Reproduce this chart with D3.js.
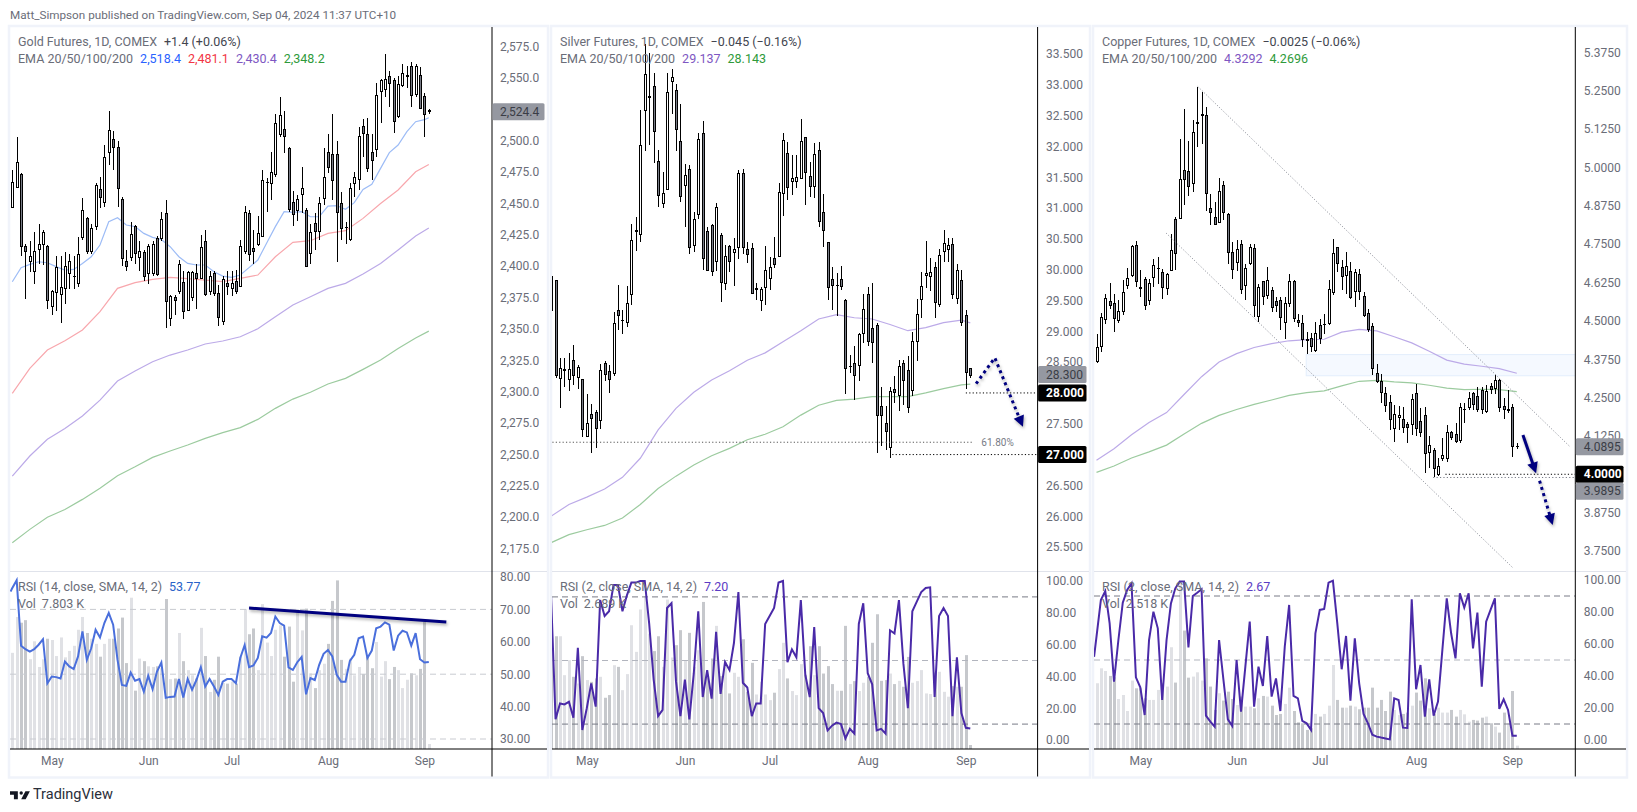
<!DOCTYPE html>
<html>
<head>
<meta charset="utf-8">
<script src="https://cdn.jsdelivr.net/npm/d3@7"></script>
<style>
  html, body { margin: 0; padding: 0; background: #fff; }
  svg { display: block; }
  text { font-family: Roboto, "Open Sans", sans-serif; }
</style>
</head>
<body>
<svg id="chart"></svg>
<script>
// gold, one value per daily bar
const goldOpen = [2447,2463,2473,2416,2404,2396,2413,2417,2416,2368,
  2379,2377,2382,2394,2392,2386,2423,2438,2412,2432,
  2461,2451,2491,2501,2495,2453,2404,2407,2432,2407,
  2411,2394,2394,2422,2422,2442,2358,2375,2380,2387,
  2365,2375,2394,2390,2420,2380,2394,2378,2356,2386,
  2382,2388,2384,2412,2442,2414,2417,2424,2467,2466,
  2473,2505,2509,2494,2451,2444,2457,2444,2410,2434,
  2428,2454,2491,2489,2489,2450,2431,2421,2466,2469,
  2511,2505,2491,2493,2539,2541,2551,2548,2519,2544,
  2552,2559,2537,2552,2535,2523];
const goldHigh = [2477,2503,2474,2418,2420,2427,2434,2429,2417,2381,
  2408,2408,2411,2410,2408,2423,2454,2439,2434,2466,
  2471,2497,2524,2508,2500,2455,2413,2435,2433,2420,
  2413,2418,2420,2424,2443,2453,2377,2377,2405,2396,
  2396,2396,2402,2425,2429,2396,2396,2385,2392,2396,
  2396,2397,2421,2448,2445,2429,2440,2477,2470,2491,
  2521,2535,2524,2495,2460,2457,2479,2446,2434,2442,
  2455,2494,2505,2521,2500,2459,2435,2466,2475,2511,
  2517,2518,2505,2546,2549,2569,2556,2550,2552,2561,
  2560,2563,2561,2559,2538,2525];
const goldLow = [2447,2462,2408,2374,2395,2386,2402,2401,2366,2361,
  2364,2355,2370,2382,2382,2383,2421,2410,2410,2429,
  2446,2447,2481,2477,2447,2400,2396,2404,2402,2396,
  2388,2386,2392,2392,2420,2351,2352,2361,2378,2358,
  2364,2372,2366,2390,2376,2377,2376,2352,2353,2377,
  2376,2378,2383,2410,2404,2402,2416,2423,2443,2453,
  2471,2503,2490,2443,2432,2436,2442,2399,2402,2413,
  2421,2449,2474,2453,2403,2421,2418,2420,2455,2461,
  2487,2475,2469,2487,2514,2535,2527,2506,2518,2543,
  2542,2527,2535,2525,2503,2521];
const goldClose = [2467,2483,2416,2412,2408,2412,2417,2427,2373,2380,
  2399,2383,2400,2404,2392,2409,2444,2412,2430,2464,
  2455,2487,2508,2495,2462,2406,2400,2425,2410,2412,
  2392,2416,2417,2393,2437,2372,2376,2373,2401,2364,
  2395,2395,2390,2415,2377,2392,2378,2359,2389,2384,
  2386,2380,2416,2443,2409,2412,2426,2468,2467,2475,
  2514,2520,2503,2445,2441,2453,2462,2400,2427,2428,
  2450,2471,2479,2468,2443,2430,2431,2462,2471,2503,
  2506,2478,2484,2536,2548,2549,2546,2515,2545,2554,
  2552,2536,2559,2526,2521,2524];
// EMA 20 is read every 2 bars, the slower ones every 4 bars, last bar always included
const goldEma20 = [2387.6,2398.8,2401.4,2403.5,2402.7,2399.6,2396.9,2397.4,2402.2,2407.5,
  2416.8,2435.4,2438.6,2432.8,2431.5,2426.1,2423,2421.3,2415.5,2407.5,
  2402.2,2400.9,2400.9,2395.6,2392.1,2391,2392.9,2398.8,2404.9,2418.2,
  2431.5,2443.4,2442.9,2443.4,2439.4,2439.4,2447.9,2448.2,2445.3,2450.6,
  2461.2,2465.2,2478,2490.5,2496.6,2507.2,2515.2,2516.8,2518.4];
const goldEma50 = [2298.6,2318.5,2333.1,2340.5,2349.1,2363.7,2382.3,2386.8,2389.5,2391,
  2390,2388.9,2387.6,2390.3,2392.9,2407.5,2419,2420.3,2426.1,2428.3,
  2438.1,2450,2460.7,2475.3,2481.1];
const goldEma100 = [2232.6,2248.6,2261.9,2270.6,2280.5,2293.2,2308.4,2316.4,2323.8,2329.1,
  2333.1,2337.9,2340.3,2343.7,2350.1,2359.7,2369,2375.6,2382.3,2386.3,
  2393.7,2402.2,2412.9,2424,2430.4];
const goldEma200 = [2179.5,2190.1,2199.7,2206,2214,2222.8,2232.9,2240,2247.5,2252.6,
  2257.4,2262.7,2267.2,2271.2,2277.8,2286.6,2294,2299.4,2306,2310.5,
  2317.7,2325.1,2334.4,2342.7,2348.2];
const goldRsi = [76.6,79,58.8,57.7,57,57.7,59.1,60.8,47.2,49.3,
  49.1,48.7,53.9,52.4,51.6,55.5,63.2,54.4,58,63.7,
  61.3,65.8,68.9,65.3,54.4,46.7,46.4,50.5,48,48.5,
  44.6,49.5,45.4,50.8,53.6,42.7,43,43.1,48.5,42.8,
  48.5,45.2,48.2,52.2,46.2,48.5,46.2,43.6,47.7,48.5,
  48.5,47.2,55,59,52.2,52.7,55,61.7,61.3,62.7,
  67.8,65.8,65,52.1,51.3,53.7,55.3,43.8,48.8,48.2,
  52.9,56.3,57.5,55.5,49.8,47.7,47.7,54.1,56,61.1,
  61.6,55,57.3,64.2,64.7,66,65.3,57.3,61.9,63.4,
  62.9,58.8,62.7,54.6,53.6,53.77];
const goldVolume = [150,206,197,201,140,168,128,140,172,170,
  145,174,143,153,161,186,206,181,172,164,
  144,164,172,172,188,205,134,236,91,141,
  137,129,128,129,126,234,109,110,181,137,
  123,115,110,189,145,89,108,144,103,102,
  105,102,144,218,179,188,123,226,166,145,
  186,193,144,191,105,218,185,219,118,95,
  123,133,164,231,263,139,125,141,115,128,
  117,144,126,167,113,137,109,128,123,95,
  108,118,115,125,198,7.8];

// silver
const silverOpen = [29.89,29.83,28.24,28.38,28.22,28.52,28.25,28.21,27.29,27.65,
  27.68,27.56,28.47,28.35,28.32,29.33,29.18,29.15,29.60,30.63,
  30.57,32.59,32.81,32.98,31.75,31.08,31.30,33.06,32.91,32.08,
  31.36,31.63,30.39,30.90,32.21,30.62,30.71,30.13,30.55,29.78,
  30.38,30.28,30.36,31.56,30.32,30.35,29.69,29.50,29.71,29.86,
  30.18,30.22,31.24,31.89,31.43,31.43,31.48,32.15,31.52,31.35,
  31.93,30.93,30.44,29.84,29.75,29.84,29.50,28.43,28.48,28.44,
  28.97,29.59,29.05,29.10,27.78,27.50,27.11,28.06,27.96,28.47,
  28.37,28.04,28.83,29.52,29.90,29.89,30.04,29.43,30.29,30.32,
  30.41,29.54,29.83,29.25,28.39];
const silverHigh = [29.89,29.83,28.56,28.56,28.64,28.78,28.45,28.21,27.99,27.82,
  27.72,28.47,28.52,28.45,29.32,29.75,29.34,29.74,30.74,30.86,
  32.59,33.67,33.51,33.19,31.94,31.58,33.19,33.25,33.02,32.69,
  31.71,31.70,30.94,32.21,32.41,30.69,30.74,31.09,30.59,30.40,
  30.40,30.51,31.61,31.64,30.45,30.44,29.78,29.72,30.38,30.21,
  30.53,31.40,32.21,32.08,31.86,31.86,32.45,32.15,31.75,32.05,
  32.07,31.23,30.44,30.04,29.94,30.06,29.52,28.61,28.76,28.98,
  29.60,29.72,29.78,29.13,28.09,27.78,28.10,28.27,28.53,28.53,
  28.60,28.99,29.52,29.96,30.46,30.19,30.12,30.33,30.64,30.52,
  30.52,30.09,29.99,29.34,28.41];
const silverLow = [29.34,28.24,27.76,28.10,28.03,28.13,28.07,27.28,27.29,27.02,
  27.10,27.42,28.20,28.00,28.27,29.02,28.95,29.07,29.43,30.31,
  30.45,31.93,32.03,31.73,31.02,31.00,31.29,32.53,31.93,31.10,
  30.70,30.25,30.28,30.83,29.99,29.98,29.89,29.98,29.48,29.67,
  29.97,29.74,30.17,30.26,30.11,29.60,29.51,29.33,29.43,29.67,
  30.02,30.20,30.87,31.13,31.21,31.32,31.48,31.05,31.18,31.16,
  30.69,30.37,29.51,29.35,29.25,29.67,27.98,28.32,27.89,28.20,
  28.81,28.76,28.49,27.03,27.14,27.08,26.95,27.83,27.71,27.80,
  27.67,27.95,28.52,29.22,29.70,29.66,29.22,29.39,30.12,30.13,
  29.52,29.45,29.08,28.07,28.24];
const silverClose = [29.34,28.29,28.40,28.38,28.38,28.29,28.41,27.41,27.50,27.59,
  27.43,28.37,28.30,28.22,29.12,29.26,29.18,29.45,30.48,30.63,
  32.01,33.17,32.81,32.25,31.21,31.24,32.88,33.12,32.28,31.18,
  31.53,30.36,30.82,32.11,30.18,29.99,29.97,31.01,29.80,30.22,
  30.13,30.32,31.56,30.36,30.25,29.62,29.69,29.68,29.98,30.04,
  30.09,31.25,32.09,31.33,31.48,31.49,32.08,31.57,31.35,31.87,
  30.79,30.63,29.71,29.74,29.75,29.72,28.40,28.43,28.28,28.95,
  29.35,28.83,28.82,27.63,27.63,27.37,28.02,28.00,28.43,28.20,
  27.76,28.84,29.28,29.72,29.94,29.96,29.46,30.23,30.43,30.40,
  29.60,29.99,29.15,28.33,28.29];
const silverEma100 = [26,26.19,26.31,26.44,26.63,26.94,27.4,27.75,28.01,28.21,
  28.36,28.53,28.65,28.83,29.01,29.2,29.27,29.22,29.2,29.11,
  29.01,29.06,29.14,29.18,29.137];
const silverEma200 = [25.57,25.7,25.78,25.85,25.97,26.19,26.45,26.65,26.83,26.98,
  27.1,27.24,27.33,27.45,27.64,27.8,27.88,27.9,27.94,27.94,
  27.94,28,28.07,28.13,28.143];
const silverRsi = [90,13,23,22.4,24,14,58,6.3,20,35.6,
  21,88,78,81,97.5,97.5,81,91,99,99,
  100,100,73,38,15,19,83,86,37,15,
  38,13,42,81,27,44,26,68,29,49,
  44,61,93,36,33,15,23,23,73,78,
  83,99,100,49,57,52,88,41,27,71,
  20,17,6,9,11,10,1,7,4,73,
  86,42,35,6,7,4,69,67,88,48,
  20,81,87,93,95.6,96,27,78,83,78,
  15,52,17,7.7,7.2];
const silverVolume = [75.9,75.9,75.9,49.7,59.8,48.6,44.1,62.5,46.4,45.2,
  47.5,48.6,34.5,36.3,56.4,55.3,39.6,50.4,83.3,65.4,
  93.9,102.8,77.7,65.9,75.9,55.3,100.6,61.6,69.9,80,
  59.8,78.2,55.3,66.5,99,49.7,60.9,82.9,49.1,58.7,
  37.4,51.3,48.6,73.9,38.5,58,36.7,45.2,36.7,32.9,
  37.9,53.8,71.5,47.5,39,36.3,57.1,49.7,69.2,49.7,
  69.2,50.8,55.8,43.7,39.2,39.2,82.9,43.7,45.7,39,
  44.6,48.6,71.5,90.7,45.9,46.4,50.8,43.7,45.9,41.9,
  62,44.6,45.7,53.1,37.4,37,51.5,52,38.5,35.2,
  42.3,41.9,41.9,63.2,2.689];

// copper
const copperOpen = [4.369,4.415,4.504,4.562,4.556,4.500,4.529,4.616,4.648,4.744,
  4.610,4.634,4.567,4.641,4.672,4.657,4.605,4.665,4.829,4.835,
  4.990,4.987,4.947,5.145,5.171,5.169,4.865,4.838,4.822,4.941,
  4.847,4.724,4.689,4.748,4.616,4.688,4.735,4.513,4.627,4.583,
  4.599,4.562,4.565,4.496,4.556,4.627,4.502,4.491,4.440,4.442,
  4.402,4.486,4.489,4.491,4.591,4.738,4.673,4.648,4.661,4.594,
  4.650,4.580,4.523,4.482,4.328,4.301,4.263,4.233,4.149,4.185,
  4.179,4.162,4.162,4.263,4.171,4.191,4.070,4.079,3.998,4.050,
  4.052,4.136,4.130,4.109,4.212,4.217,4.263,4.255,4.272,4.204,
  4.285,4.280,4.305,4.220,4.211,4.218,4.092];
const copperHigh = [4.458,4.526,4.589,4.624,4.589,4.567,4.632,4.673,4.746,4.759,
  4.665,4.643,4.637,4.703,4.708,4.670,4.657,4.784,4.838,5.091,
  5.191,5.085,5.156,5.261,5.245,5.198,4.914,4.887,4.966,4.957,
  4.851,4.757,4.762,4.762,4.684,4.751,4.749,4.621,4.630,4.675,
  4.610,4.578,4.578,4.578,4.654,4.632,4.523,4.518,4.464,4.461,
  4.496,4.507,4.523,4.632,4.768,4.740,4.697,4.724,4.692,4.670,
  4.670,4.594,4.540,4.494,4.358,4.328,4.283,4.258,4.225,4.222,
  4.220,4.171,4.263,4.293,4.215,4.218,4.126,4.087,4.052,4.117,
  4.162,4.142,4.166,4.231,4.231,4.269,4.269,4.283,4.285,4.290,
  4.296,4.323,4.309,4.250,4.276,4.228,4.101];
const copperLow = [4.361,4.399,4.491,4.537,4.464,4.493,4.518,4.605,4.643,4.610,
  4.578,4.534,4.551,4.610,4.621,4.572,4.583,4.662,4.665,4.833,
  4.879,4.906,4.919,5.068,5.077,4.858,4.811,4.811,4.819,4.827,
  4.686,4.637,4.662,4.589,4.567,4.681,4.513,4.496,4.551,4.572,
  4.529,4.529,4.469,4.442,4.545,4.496,4.480,4.415,4.393,4.397,
  4.399,4.426,4.458,4.486,4.583,4.659,4.602,4.589,4.572,4.545,
  4.567,4.511,4.464,4.323,4.296,4.233,4.204,4.144,4.106,4.144,
  4.133,4.101,4.128,4.125,4.122,4.003,4.022,3.992,3.994,4.044,
  4.041,4.111,4.101,4.103,4.166,4.211,4.209,4.204,4.198,4.200,
  4.263,4.263,4.204,4.179,4.200,4.057,4.081];
const copperClose = [4.413,4.511,4.572,4.549,4.507,4.532,4.592,4.637,4.743,4.627,
  4.604,4.551,4.621,4.679,4.672,4.607,4.650,4.730,4.719,4.960,
  4.962,4.939,5.113,5.145,5.171,4.914,4.854,4.814,4.921,4.854,
  4.722,4.667,4.732,4.602,4.670,4.740,4.549,4.610,4.578,4.630,
  4.545,4.551,4.511,4.556,4.627,4.507,4.494,4.440,4.435,4.415,
  4.458,4.442,4.489,4.602,4.719,4.686,4.643,4.678,4.575,4.659,
  4.594,4.518,4.472,4.345,4.301,4.267,4.225,4.179,4.195,4.193,
  4.152,4.152,4.244,4.149,4.135,4.068,4.095,4.019,4.025,4.061,
  4.136,4.119,4.106,4.218,4.212,4.247,4.228,4.211,4.212,4.270,
  4.276,4.307,4.218,4.211,4.211,4.092,4.092];
const copperEma100 = [4.046,4.083,4.129,4.169,4.201,4.26,4.318,4.366,4.393,4.413,
  4.426,4.435,4.439,4.44,4.463,4.472,4.467,4.448,4.428,4.401,
  4.372,4.359,4.352,4.344,4.3292];
const copperEma200 = [4.006,4.027,4.053,4.073,4.095,4.131,4.166,4.192,4.211,4.228,
  4.242,4.257,4.266,4.272,4.288,4.303,4.306,4.301,4.298,4.29,
  4.281,4.276,4.277,4.276,4.2696];
const copperRsi = [64.6,87.5,93.1,72.9,36.5,62.5,85.8,93.8,97.9,39.2,
  32.9,15.6,62.5,80.2,69.8,25,62.5,85.4,94.8,99,
  99,57.9,90,92,94.2,15.2,11.5,8.3,62.5,37.5,
  12.9,8.8,50,17.7,45.8,74,20.8,45.8,33.8,65,
  27.1,38.5,18.1,58.3,84.4,27.5,26,11.9,10.4,6.3,
  66.7,81.3,81.9,98.3,99.6,72.9,44.2,65,24.6,63.5,
  35.4,16.3,10.4,3.3,2.1,1.5,1,0.4,26,25,
  7.7,7.5,87.9,31.7,46.9,14.6,37.9,15.2,24,56.3,
  88.5,66.7,51,91.7,82.7,91.7,57.3,79.6,33.3,74,
  81.3,88.5,19.4,25.4,18.8,2.7,2.67];
const copperVolume = [49.3,60.5,58.5,54.8,53.8,37.5,40.5,28.5,51.3,45.5,
  45.5,38,36.8,36.8,44.3,49.3,46.8,76.3,49.8,124.8,
  88.8,53.5,54.3,57.5,51.3,68,46.8,29.3,41.8,36.3,
  43,37.5,33,39.3,31.8,31.8,30.5,38,39.8,39.3,
  32.5,25.5,26.3,33.8,46,28.5,20,19.3,14.3,15.5,
  26.3,24.3,26.3,32.5,63,36.8,31,31,32.5,31.8,
  29.8,31,31,46,31,36.8,28.5,43,29.3,25.5,
  26.3,27.3,32.5,42.3,36.3,53,30.5,26.3,31,27.3,
  27.3,29.3,24.3,29.3,26,20.5,21.8,21.3,23.5,24.3,
  19.3,16.8,12.3,27.3,19.3,43.5,2.518];

// axis ticks
const goldPriceTicks = [2575,2550,2525,2500,2475,2450,2425,2400,2375,2350,2325,2300,2275,2250,2225,2200,2175];
const silverPriceTicks = [33.5,33,32.5,32,31.5,31,30.5,30,29.5,29,28.5,28,27.5,27,26.5,26,25.5];
const copperPriceTicks = [5.375,5.25,5.125,5,4.875,4.75,4.625,4.5,4.375,4.25,4.125,3.875,3.75];
const goldRsiTicks = [80,70,60,50,40,30];
const fastRsiTicks = [100,80,60,40,20,0];
const monthNames = ['May','Jun','Jul','Aug','Sep'];
const goldMonthBars = [9,31,50,72,94];
const silverMonthBars = [8,30,49,71,93];
const copperMonthBars = [10,32,51,73,95];

// drawn annotations: bar number, price
const goldTrendBars = [54,99], goldTrendRsi = [70.4,66.1];
const silverArrowBars = [95.3,99.5,105.8], silverArrowPrices = [28.15,28.57,27.45];
const channelTopBars = [23.1,108], channelTopPrices = [5.264,4.092];
const channelLowBars = [15.9,95.2], channelLowPrices = [4.786,3.694];
const copperZoneBars = [47.9,140], copperZonePrices = [4.39,4.321];
const copperSolidBars = [97.4,100.4], copperSolidPrices = [4.128,4.003];
const copperDotBars = [101.2,104.2], copperDotPrices = [3.979,3.835];
// rsi line runs in from the left edge of the pane, before the first whole bar
const goldRsiLead = [-0.4,75.5], copperRsiLead = [-0.56,52];

const W = 1637, H = 812;
const svg = d3.select('#chart').attr('width', W).attr('height', H);
const defs = svg.append('defs');

const FRAME_TOP = 27, PANE_SPLIT = 571.5, TIME_TOP = 749, FRAME_BOTTOM = 776.5;
const NAVY = '#00007f', TEXT = '#6a6d78';

svg.append('text').attr('x', 10).attr('y', 19).attr('font-size', 11.7).attr('fill', TEXT)
  .text('Matt_Simpson published on TradingView.com, Sep 04, 2024 11:37 UTC+10');

function everyNth(n, last) {
  const bars = d3.range(0, last, n);
  bars.push(last);
  return bars;
}

function drawPanel(p) {
  const root = svg.append('g');
  const clipId = p.id + '-price', clipLow = p.id + '-low';
  defs.append('clipPath').attr('id', clipId).append('rect')
    .attr('x', p.left).attr('y', FRAME_TOP).attr('width', p.axisX - p.left).attr('height', PANE_SPLIT - FRAME_TOP);
  defs.append('clipPath').attr('id', clipLow).append('rect')
    .attr('x', p.left).attr('y', PANE_SPLIT).attr('width', p.axisX - p.left).attr('height', TIME_TOP - PANE_SPLIT);

  const last = p.close.length - 1;
  const x = d3.scaleLinear().domain([0, last]).range(p.xRange);
  const y = d3.scaleLinear().domain(p.priceDomain).range(p.priceRange);
  const yRsi = d3.scaleLinear().domain(p.rsiDomain).range(p.rsiRange);
  const yVol = d3.scaleLinear().domain([0, p.volMax]).range([TIME_TOP, TIME_TOP - p.volPx]);
  const bars = d3.range(last + 1);
  const isUp = i => p.close[i] >= p.open[i];
  const cx = i => Math.round(x(i)) + 0.5;

  // panel frame
  root.append('rect').attr('x', p.left - 1).attr('y', FRAME_TOP - 1)
    .attr('width', p.right - p.left + 2).attr('height', FRAME_BOTTOM - FRAME_TOP + 2)
    .attr('fill', '#fff').attr('stroke', '#f0f3fa').attr('stroke-width', 2.5);

  // lower pane: volume, bands, rsi
  const low = root.append('g').attr('clip-path', `url(#${clipLow})`);
  low.selectAll('rect.vol').data(bars).join('rect').attr('class', 'vol')
    .attr('x', i => cx(i) - 1.5).attr('width', 3)
    .attr('y', i => yVol(p.volume[i])).attr('height', i => TIME_TOP - yVol(p.volume[i]))
    .attr('fill', i => isUp(i) ? '#e0e1e5' : '#c6c8cc');
  low.selectAll('line.band').data(p.bands).join('line').attr('class', 'band')
    .attr('x1', p.left).attr('x2', p.axisX).attr('y1', d => yRsi(d.v)).attr('y2', d => yRsi(d.v))
    .attr('stroke', d => d.c).attr('stroke-dasharray', '6,4');
  const rsiPts = p.rsi.map((v, i) => [x(i), yRsi(v)]);
  if (p.rsiLead) rsiPts.unshift([x(p.rsiLead[0]), yRsi(p.rsiLead[1])]);
  low.append('path').attr('d', d3.line()(rsiPts))
    .attr('fill', 'none').attr('stroke', p.rsiColor).attr('stroke-width', 2);

  // upper pane
  const top = root.append('g').attr('clip-path', `url(#${clipId})`);
  if (p.underlay) p.underlay(top, x, y);
  p.emas.forEach(e => {
    const b = everyNth(e.n, last);
    top.append('path').datum(e.values)
      .attr('d', d3.line().x((d, i) => x(b[i])).y(d => y(d)))
      .attr('fill', 'none').attr('stroke', e.c).attr('stroke-width', 1.2);
  });
  top.selectAll('line.wick').data(bars).join('line').attr('class', 'wick')
    .attr('x1', cx).attr('x2', cx).attr('y1', i => y(p.high[i])).attr('y2', i => y(p.low[i]))
    .attr('stroke', '#000').attr('stroke-width', 1).attr('shape-rendering', 'crispEdges');
  top.selectAll('rect.body').data(bars).join('rect').attr('class', 'body')
    .attr('x', i => cx(i) - 1).attr('width', 2)
    .attr('y', i => y(Math.max(p.open[i], p.close[i])))
    .attr('height', i => Math.max(0.5, Math.abs(y(p.open[i]) - y(p.close[i]))))
    .attr('fill', i => isUp(i) ? '#fff' : '#787b86')
    .attr('stroke', '#000').attr('stroke-width', 1).attr('shape-rendering', 'crispEdges');
  if (p.overlay) p.overlay(top, x, y, low, yRsi);

  // separators and axis lines
  root.append('line').attr('x1', p.left).attr('x2', p.right).attr('y1', PANE_SPLIT).attr('y2', PANE_SPLIT)
    .attr('stroke', '#e0e3eb');
  root.append('line').attr('x1', p.left).attr('x2', p.right).attr('y1', TIME_TOP).attr('y2', TIME_TOP)
    .attr('stroke', '#000');
  root.append('line').attr('x1', p.axisX).attr('x2', p.axisX).attr('y1', FRAME_TOP).attr('y2', FRAME_BOTTOM)
    .attr('stroke', '#000');

  // axes
  const styleAxis = g => {
    g.select('.domain').remove();
    g.selectAll('.tick line').remove();
    g.selectAll('.tick text').attr('fill', TEXT).attr('font-size', 12);
  };
  root.append('g').attr('transform', `translate(${p.axisX},0)`)
    .call(d3.axisRight(y).tickValues(p.priceTicks).tickFormat(p.priceFormat).tickSize(0).tickPadding(p.tickPad))
    .call(styleAxis);
  root.append('g').attr('transform', `translate(${p.axisX},0)`)
    .call(d3.axisRight(yRsi).tickValues(p.rsiTicks).tickFormat(d3.format('.2f')).tickSize(0).tickPadding(p.tickPad))
    .call(styleAxis);
  root.append('g').attr('transform', `translate(0,${TIME_TOP + 7})`)
    .call(d3.axisBottom(x).tickValues(p.monthBars).tickFormat((d, i) => monthNames[i]).tickSize(0).tickPadding(0))
    .call(styleAxis);

  // price badges, pushed down when they would overlap
  let prevY = -100;
  p.badges.forEach(b => {
    const cy = Math.max(y(b.v), prevY + 17);
    prevY = cy;
    root.append('rect').attr('x', p.axisX + 0.5).attr('y', cy - 8.5)
      .attr('width', p.right - p.axisX - 3).attr('height', 17).attr('rx', 1.5).attr('fill', b.bg);
    root.append('text').attr('x', p.axisX + p.tickPad).attr('y', cy + 4.2)
      .attr('font-size', 12).attr('fill', b.fg).attr('font-weight', b.bold ? 700 : 400).text(b.label);
  });

  // legends, over the marks
  const legendX = p.left + 8;
  const legend = (yPos, parts) => {
    const t = root.append('text').attr('x', legendX).attr('y', yPos).attr('font-size', 12.5);
    parts.forEach(q => t.append('tspan').attr('dx', q.dx || 0).attr('fill', q.c || TEXT).text(q.t));
  };
  legend(46, p.title);
  legend(63, p.emaLegend);
  legend(591, p.rsiLegend);
  legend(608, [{ t: 'Vol' }, { t: p.volLabel, dx: 6 }]);
}

// dotted line with an arrow head at its end
function arrow(g, x, y, xs, ys, opts) {
  const pts = xs.map((b, i) => [x(b), y(ys[i])]);
  const shadow = 'drop-shadow(1.5px 2px 1.5px rgba(0,0,0,0.3))';
  const grp = g.append('g').style('filter', shadow);
  const [ax, ay] = pts[pts.length - 2], [bx, by] = pts[pts.length - 1];
  const ang = Math.atan2(by - ay, bx - ax), len = 11, wing = 5.5;
  const tail = [bx - Math.cos(ang) * (len - 2), by - Math.sin(ang) * (len - 2)];
  const linePts = pts.slice(0, -1).concat([tail]);
  grp.append('path').attr('d', d3.line()(linePts)).attr('fill', 'none')
    .attr('stroke', NAVY).attr('stroke-width', opts.w).attr('stroke-dasharray', opts.dash || null);
  const baseX = bx - Math.cos(ang) * len, baseY = by - Math.sin(ang) * len;
  grp.append('path').attr('fill', NAVY).attr('d', d3.line()([
    [bx, by],
    [baseX - Math.sin(ang) * wing, baseY + Math.cos(ang) * wing],
    [baseX + Math.sin(ang) * wing, baseY - Math.cos(ang) * wing]
  ]) + 'Z');
}

function priceLine(g, x, y, fromBar, toX, price, color) {
  g.append('line').attr('x1', x(fromBar)).attr('x2', toX).attr('y1', y(price)).attr('y2', y(price))
    .attr('stroke', color).attr('stroke-width', 1).attr('stroke-dasharray', '1.2,2.2');
}

const EMA_COLORS = { e20: '#9dbcf6', e50: '#f8a7ad', e100: '#bcaae8', e200: '#9ccb9f' };
const LEGEND_COLORS = { e20: '#2962ff', e50: '#f23645', e100: '#7e57c2', e200: '#2e9a3a' };

drawPanel({
  id: 'gold', left: 10, right: 547, axisX: 492, tickPad: 8,
  xRange: [12.3, 428.8],
  priceDomain: [2575, 2175], priceRange: [46.7, 548.3],
  rsiDomain: [80, 30], rsiRange: [577, 739],
  volMax: 263, volPx: 168.6,
  open: goldOpen, high: goldHigh, low: goldLow, close: goldClose,
  rsi: goldRsi, rsiLead: goldRsiLead, volume: goldVolume, rsiColor: '#4a6fdc',
  emas: [
    { n: 2, values: goldEma20, c: EMA_COLORS.e20 },
    { n: 4, values: goldEma50, c: EMA_COLORS.e50 },
    { n: 4, values: goldEma100, c: EMA_COLORS.e100 },
    { n: 4, values: goldEma200, c: EMA_COLORS.e200 }
  ],
  bands: [{ v: 70, c: '#c9cbd1' }, { v: 50, c: '#c9cbd1' }, { v: 30, c: '#c9cbd1' }],
  priceTicks: goldPriceTicks, priceFormat: d3.format(',.1f'), rsiTicks: goldRsiTicks, monthBars: goldMonthBars,
  badges: [{ v: 2523.2, label: '2,524.4', bg: '#9598a1', fg: '#3a3d46' }],
  title: [{ t: 'Gold Futures, 1D, COMEX' }, { t: '+1.4 (+0.06%)', dx: 7, c: '#42454f' }],
  emaLegend: [{ t: 'EMA 20/50/100/200' }, { t: '2,518.4', dx: 7, c: LEGEND_COLORS.e20 },
    { t: '2,481.1', dx: 7, c: LEGEND_COLORS.e50 }, { t: '2,430.4', dx: 7, c: LEGEND_COLORS.e100 },
    { t: '2,348.2', dx: 7, c: LEGEND_COLORS.e200 }],
  rsiLegend: [{ t: 'RSI (14, close, SMA, 14, 2)' }, { t: '53.77', dx: 7, c: '#2962c8' }],
  volLabel: '7.803 K',
  overlay: (top, x, y, low, yRsi) => {
    low.append('path').attr('d', d3.line().x((d, i) => x(goldTrendBars[i])).y(d => yRsi(d))(goldTrendRsi))
      .attr('fill', 'none').attr('stroke', NAVY).attr('stroke-width', 3)
      .style('filter', 'drop-shadow(1.5px 2px 1.5px rgba(0,0,0,0.3))');
  }
});

drawPanel({
  id: 'silver', left: 552, right: 1089, axisX: 1037.6, tickPad: 8.5,
  xRange: [551.1, 970.3],
  priceDomain: [33.5, 25.5], priceRange: [54, 547],
  rsiDomain: [100, 0], rsiRange: [581, 740],
  volMax: 103, volPx: 153,
  open: silverOpen, high: silverHigh, low: silverLow, close: silverClose,
  rsi: silverRsi, volume: silverVolume, rsiColor: '#4a2aa8',
  emas: [
    { n: 4, values: silverEma100, c: EMA_COLORS.e100 },
    { n: 4, values: silverEma200, c: EMA_COLORS.e200 }
  ],
  bands: [{ v: 90, c: '#787b86' }, { v: 50, c: '#b2b5be' }, { v: 10, c: '#787b86' }],
  priceTicks: silverPriceTicks, priceFormat: d3.format('.3f'), rsiTicks: fastRsiTicks, monthBars: silverMonthBars,
  badges: [
    { v: 28.3, label: '28.300', bg: '#9598a1', fg: '#3a3d46' },
    { v: 28, label: '28.000', bg: '#000', fg: '#fff', bold: true },
    { v: 27, label: '27.000', bg: '#000', fg: '#fff', bold: true }
  ],
  title: [{ t: 'Silver Futures, 1D, COMEX' }, { t: '\u22120.045 (\u22120.16%)', dx: 7, c: '#42454f' }],
  emaLegend: [{ t: 'EMA 20/50/100/200' }, { t: '29.137', dx: 7, c: LEGEND_COLORS.e100 },
    { t: '28.143', dx: 7, c: LEGEND_COLORS.e200 }],
  rsiLegend: [{ t: 'RSI (2, close, SMA, 14, 2)' }, { t: '7.20', dx: 7, c: '#5b3cc4' }],
  volLabel: '2.689 K',
  overlay: (top, x, y) => {
    priceLine(top, x, y, 93, 1037, 28, '#000');
    priceLine(top, x, y, 76.5, 1037, 27, '#000');
    priceLine(top, x, y, -2, x(94.6), 27.2, '#555');
    top.append('text').attr('x', 997.6).attr('y', 446).attr('text-anchor', 'middle')
      .attr('font-size', 10).attr('fill', '#787b86').text('61.80%');
    arrow(top, x, y, silverArrowBars, silverArrowPrices, { w: 3, dash: '3,3.5' });
  }
});

drawPanel({
  id: 'copper', left: 1094, right: 1626, axisX: 1575.3, tickPad: 8.5,
  xRange: [1096.5, 1516.8],
  priceDomain: [5.375, 3.75], priceRange: [52.3, 551],
  rsiDomain: [100, 0], rsiRange: [580, 740],
  volMax: 125, volPx: 166.7,
  open: copperOpen, high: copperHigh, low: copperLow, close: copperClose,
  rsi: copperRsi, rsiLead: copperRsiLead, volume: copperVolume, rsiColor: '#4a2aa8',
  emas: [
    { n: 4, values: copperEma100, c: EMA_COLORS.e100 },
    { n: 4, values: copperEma200, c: EMA_COLORS.e200 }
  ],
  bands: [{ v: 90, c: '#787b86' }, { v: 50, c: '#b2b5be' }, { v: 10, c: '#787b86' }],
  priceTicks: copperPriceTicks, priceFormat: d3.format('.4f'), rsiTicks: fastRsiTicks, monthBars: copperMonthBars,
  badges: [
    { v: 4.0895, label: '4.0895', bg: '#9598a1', fg: '#3a3d46' },
    { v: 4, label: '4.0000', bg: '#000', fg: '#fff', bold: true },
    { v: 3.9895, label: '3.9895', bg: '#9598a1', fg: '#3a3d46' }
  ],
  title: [{ t: 'Copper Futures, 1D, COMEX' }, { t: '\u22120.0025 (\u22120.06%)', dx: 7, c: '#42454f' }],
  emaLegend: [{ t: 'EMA 20/50/100/200' }, { t: '4.3292', dx: 7, c: LEGEND_COLORS.e100 },
    { t: '4.2696', dx: 7, c: LEGEND_COLORS.e200 }],
  rsiLegend: [{ t: 'RSI (2, close, SMA, 14, 2)' }, { t: '2.67', dx: 7, c: '#5b3cc4' }],
  volLabel: '2.518 K',
  underlay: (g, x, y) => {
    g.append('rect').attr('x', x(copperZoneBars[0])).attr('width', x(copperZoneBars[1]) - x(copperZoneBars[0]))
      .attr('y', y(copperZonePrices[0])).attr('height', y(copperZonePrices[1]) - y(copperZonePrices[0]))
      .attr('fill', '#f5f9ff').attr('stroke', '#e3eefc');
  },
  overlay: (top, x, y) => {
    const channel = (bs, ps) => top.append('line')
      .attr('x1', x(bs[0])).attr('y1', y(ps[0])).attr('x2', x(bs[1])).attr('y2', y(ps[1]))
      .attr('stroke', '#9598a1').attr('stroke-width', 1).attr('stroke-dasharray', '1.2,1.8');
    channel(channelTopBars, channelTopPrices);
    channel(channelLowBars, channelLowPrices);
    priceLine(top, x, y, 79.7, 1575, 4, '#000');
    priceLine(top, x, y, 76.9, 1575, 3.9895, '#787b86');
    arrow(top, x, y, copperSolidBars, copperSolidPrices, { w: 3 });
    arrow(top, x, y, copperDotBars, copperDotPrices, { w: 3, dash: '3,3.5' });
  }
});

// footer logo
const logo = svg.append('g').attr('transform', 'translate(10,788) scale(0.56)').attr('fill', '#131722');
logo.append('path').attr('d', 'M14 6H0v6h7v8h7V6Z M28 20h-8l7.5-14h8L28 20Z');
logo.append('circle').attr('cx', 20).attr('cy', 9).attr('r', 3);
svg.append('text').attr('x', 33).attr('y', 799).attr('font-size', 14.5).attr('fill', '#2a2e39').text('TradingView');
</script>
</body>
</html>
